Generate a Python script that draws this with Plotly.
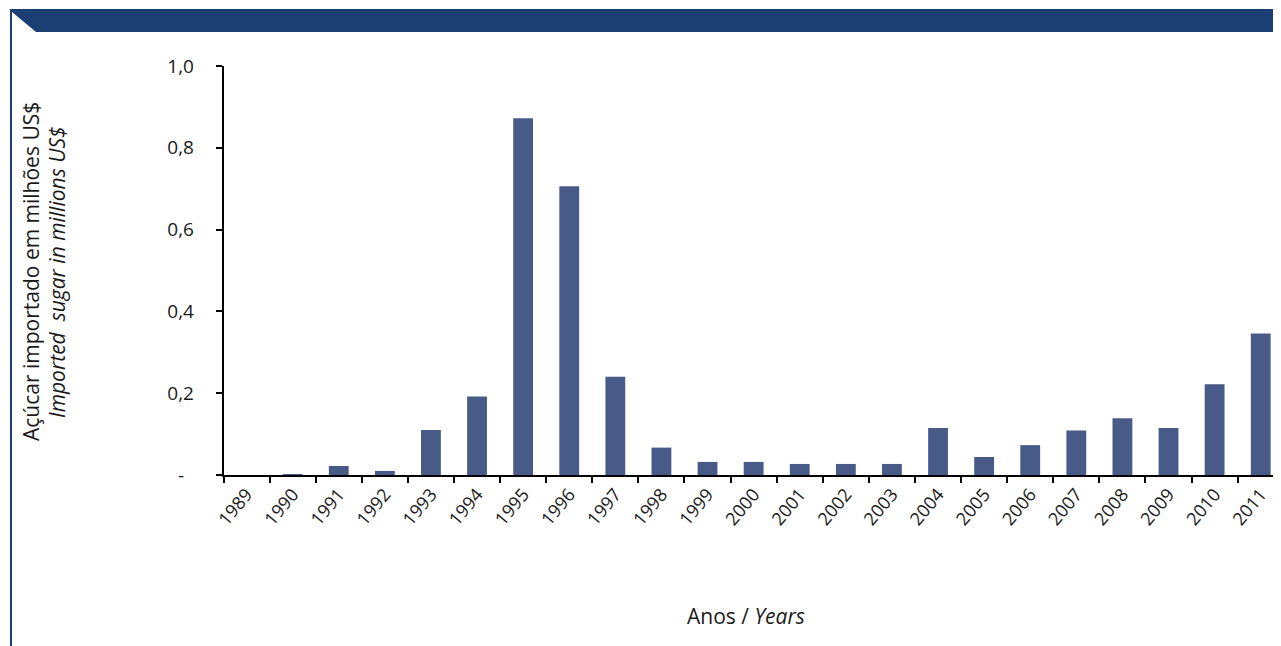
import plotly.graph_objects as go

years = [str(y) for y in range(1989, 2012)]
values = [0.0, 0.002, 0.022, 0.010, 0.110, 0.192, 0.872, 0.706, 0.240, 0.067,
          0.032, 0.032, 0.027, 0.027, 0.027, 0.115, 0.044, 0.073, 0.109, 0.139,
          0.115, 0.222, 0.346]
ytick_vals = [0, 0.2, 0.4, 0.6, 0.8, 1.0]
ytick_text = ["-\u00a0\u00a0", "0,2", "0,4", "0,6", "0,8", "1,0"]
ytitle_pt = "Açúcar importado em milhões US$"
ytitle_en = "Imported \u00a0sugar in millions US$"
xtitle = "Anos / <i>Years</i>"

# page body margin offset (the figure is drawn 8px in from the window corner)
OX, OY = 8, 8
W, H = 1281 - OX, 646 - OY
FONT = "Open Sans"
BAR = "#485a87"
NAVY = "#1c3f73"
TXT = "#1a1a1a"

def px(x):
    return (x - OX) / W

def py(y):
    return 1 - (y - OY) / H

fig = go.Figure(go.Bar(x=years, y=values, marker=dict(color=BAR, line=dict(width=0))))

fig.update_layout(
    width=W, height=H,
    margin=dict(l=0, r=0, t=0, b=0, pad=0, autoexpand=False),
    paper_bgcolor="white", plot_bgcolor="white",
    bargap=0.57,
    showlegend=False,
    font=dict(family=FONT, size=19, color=TXT),
    xaxis=dict(
        domain=[px(223.5), 1.0],
        range=[-0.5, 22.44],
        type="category",
        automargin=False,
        showline=True, linecolor="black", linewidth=1.5,
        ticks="outside", ticklen=6, tickcolor="black", tickwidth=1.5,
        tickson="boundaries",
        tickangle=-50,
        tickfont=dict(family=FONT, size=18, color=TXT),
        showgrid=False, zeroline=False,
        anchor="y",
    ),
    yaxis=dict(
        domain=[py(475), py(66)],
        range=[0, 1.0],
        automargin=False,
        tickvals=ytick_vals, ticktext=ytick_text,
        showline=True, linecolor="black", linewidth=1.5,
        ticks="outside", ticklen=6, tickcolor="black", tickwidth=1.5,
        ticklabelstandoff=18,
        tickfont=dict(family=FONT, size=19, color=TXT),
        showgrid=False, zeroline=False,
        anchor="x",
    ),
)

# header band with cut corner and left border line
path = (f"M {px(10)},{py(9)} L {px(1281)},{py(9)} L {px(1281)},{py(32)} "
        f"L {px(36)},{py(32)} L {px(12)},{py(12)} L {px(12)},{py(646)} "
        f"L {px(10)},{py(646)} Z")
fig.add_shape(type="path", path=path, xref="paper", yref="paper",
              fillcolor=NAVY, line=dict(width=0), layer="above")

fig.add_annotation(text=ytitle_pt, x=px(31), y=py(272), xref="paper", yref="paper",
                   textangle=-90, showarrow=False, xanchor="center", yanchor="middle",
                   font=dict(family=FONT, size=21, color=TXT))
fig.add_annotation(text=f"<i>{ytitle_en}</i>", x=px(57), y=py(272), xref="paper", yref="paper",
                   textangle=-90, showarrow=False, xanchor="center", yanchor="middle",
                   font=dict(family=FONT, size=21, color=TXT))
fig.add_annotation(text=xtitle, x=px(746), y=py(616), xref="paper", yref="paper",
                   showarrow=False, xanchor="center", yanchor="middle",
                   font=dict(family=FONT, size=21, color=TXT))

fig.write_html("out.html")
